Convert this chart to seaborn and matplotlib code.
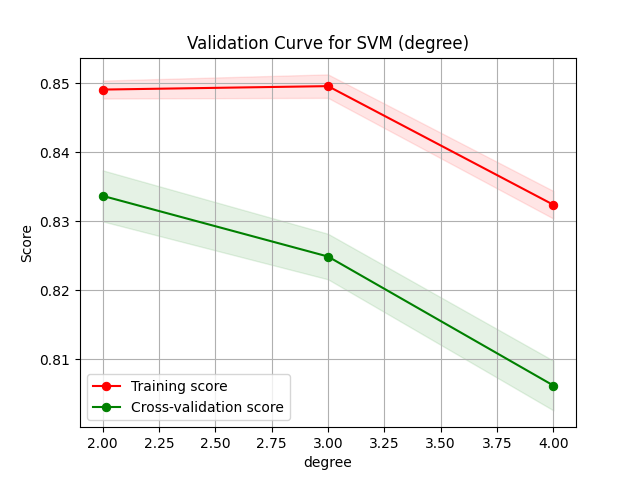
import numpy as np
import matplotlib
matplotlib.use("Agg")
import matplotlib.pyplot as plt
import seaborn as sns

degree = [2, 3, 4]
train_mean = [0.8491, 0.8496, 0.8324]
train_std = [0.0013, 0.0017, 0.0020]
cv_mean = [0.8337, 0.8249, 0.8062]
cv_std = [0.0037, 0.0033, 0.0036]

fig, ax = plt.subplots(figsize=(6.4, 4.8), dpi=100)
tm, ts = np.array(train_mean), np.array(train_std)
cm, cs = np.array(cv_mean), np.array(cv_std)
ax.fill_between(degree, tm - ts, tm + ts, alpha=0.1, color="r")
ax.fill_between(degree, cm - cs, cm + cs, alpha=0.1, color="g")
sns.lineplot(x=degree, y=train_mean, marker="o", color="r", markeredgecolor="r",
             label="Training score", ax=ax)
sns.lineplot(x=degree, y=cv_mean, marker="o", color="g", markeredgecolor="g",
             label="Cross-validation score", ax=ax)
ax.grid(True)
ax.set_title("Validation Curve for SVM (degree)")
ax.set_xlabel("degree")
ax.set_ylabel("Score")
ax.legend(loc="lower left")
fig.savefig("out.png")
